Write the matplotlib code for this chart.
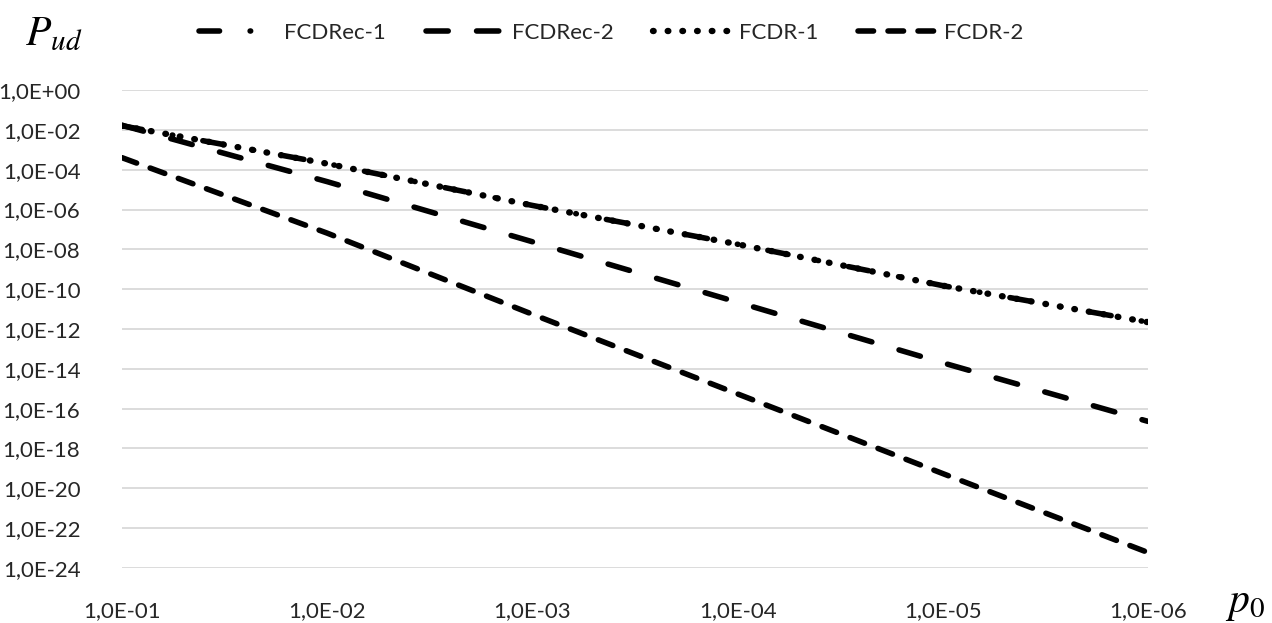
import numpy as np
import matplotlib
matplotlib.use('Agg')
import matplotlib.pyplot as plt
from matplotlib.ticker import LogLocator, FuncFormatter, NullLocator

# values, one point per decade of p0
P0 = [1e-1, 1e-2, 1e-3, 1e-4, 1e-5, 1e-6]
FCDRec1 = [1.6e-2, 2.0e-4, 1.6e-6, 1.8e-8, 1.5e-10, 2.2e-12]
FCDRec2 = [1.7e-2, 2.5e-5, 2.4e-8, 2.2e-11, 2.0e-14, 2.3e-17]
FCDR1 = [1.6e-2, 2.0e-4, 1.6e-6, 1.8e-8, 1.5e-10, 2.2e-12]
FCDR2 = [4.0e-4, 6.5e-8, 5.5e-12, 5.5e-16, 5.5e-20, 6.0e-24]

SeriesNames = ['FCDRec-1', 'FCDRec-2', 'FCDR-1', 'FCDR-2']
SeriesValues = [FCDRec1, FCDRec2, FCDR1, FCDR2]
# dash patterns in units of line width
DashList = [(0, (3.7, 5.5, 0.1, 5.5)),
            (0, (4.0, 5.1)),
            (0, (0.1, 2.2)),
            (0, (2.8, 2.6))]
WidthList = [4.0, 4.0, 4.6, 4.0]

plt.rcParams['font.family'] = ['Lato', 'DejaVu Sans']
plt.rcParams['mathtext.fontset'] = 'stix'

fig = plt.figure(figsize=(12.72, 6.23), dpi=100)
ax = fig.add_axes([122/1272, 1-568/623, (1148-122)/1272, (568-90)/623])

for name, vals, dash, lw in zip(SeriesNames, SeriesValues, DashList, WidthList):
    ax.plot(P0, vals, color='black', lw=lw, linestyle=dash,
            dash_capstyle='round', solid_capstyle='round', label=name)

ax.set_xscale('log')
ax.set_yscale('log')
ax.set_xlim(1e-1, 1e-6)
ax.set_ylim(1e-24, 1e0)

ax.yaxis.set_major_locator(LogLocator(base=100.0, numticks=20))
ax.yaxis.set_minor_locator(NullLocator())
ax.xaxis.set_major_locator(LogLocator(base=10.0, numticks=20))
ax.xaxis.set_minor_locator(NullLocator())

def ExcelFormat(v, pos):
    return '1,0E' + '{:+03d}'.format(int(round(np.log10(v))))

ax.xaxis.set_major_formatter(FuncFormatter(ExcelFormat))
ax.yaxis.set_major_formatter(FuncFormatter(ExcelFormat))

ax.grid(axis='y', color='#d9d9d9', lw=1.3)
ax.grid(axis='x', visible=False)
ax.set_axisbelow(True)
for s in ax.spines.values():
    s.set_visible(False)
ax.tick_params(axis='both', length=0, labelsize=16, colors='#262626')
ax.tick_params(axis='y', pad=30)
ax.tick_params(axis='x', pad=24)

fig.text(25/1272, 1-45/623, r'$P_{ud}$', fontsize=30, ha='left', va='baseline')
fig.text(1225/1272, 1-612/623, r'$p_0$', fontsize=30, ha='left', va='baseline')

leg = fig.legend(loc='center', bbox_to_anchor=(611/1272, 1-33/623), ncol=4,
                 frameon=False, fontsize=16, handlelength=3.6,
                 handletextpad=0.25, columnspacing=1.8)
for t in leg.get_texts():
    t.set_color('#262626')

plt.savefig('out.png', dpi=100)
